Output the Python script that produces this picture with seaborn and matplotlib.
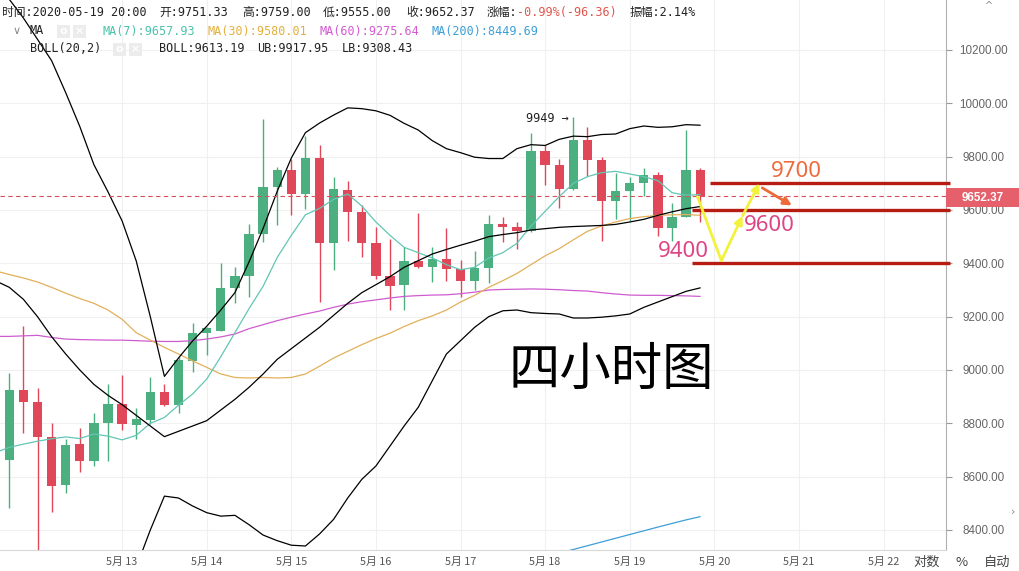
import numpy as np
import pandas as pd
import matplotlib
matplotlib.use("Agg")
import matplotlib.pyplot as plt
import seaborn as sns
from matplotlib.patches import Rectangle

# ---------------- data ----------------
opens = [8663, 8925, 8880, 8749, 8567, 8721, 8657, 8803, 8871, 8793,
         8813, 8916, 8868, 9034, 9139, 9147, 9307, 9352, 9511, 9685,
         9749, 9661, 9794, 9477, 9674, 9593, 9477, 9354, 9318, 9409,
         9388, 9416, 9379, 9334, 9382, 9548, 9538, 9522, 9820, 9770,
         9678, 9861, 9786, 9634, 9670, 9702, 9733, 9531, 9575, 9751.33]
highs = [8987, 9164, 8932, 8803, 8742, 8783, 8837, 8946, 8983, 8857,
         8973, 8946, 9048, 9177, 9160, 9402, 9388, 9548, 9940, 9760,
         9790, 9879, 9845, 9725, 9708, 9620, 9538, 9491, 9463, 9589,
         9463, 9531, 9412, 9447, 9583, 9575, 9556, 9888, 9845, 9793,
         9949, 9913, 9797, 9738, 9722, 9756, 9742, 9627, 9899, 9759.00]
lows = [8483, 8762, 8300, 8469, 8537, 8619, 8640, 8660, 8776, 8742,
        8796, 8866, 8837, 8994, 9055, 9147, 9252, 9273, 9480, 9545,
        9583, 9602, 9255, 9375, 9484, 9422, 9341, 9225, 9225, 9382,
        9330, 9334, 9273, 9300, 9327, 9480, 9452, 9518, 9695, 9606,
        9674, 9729, 9484, 9565, 9559, 9654, 9504, 9484, 9572, 9555.00]
closes = [8925, 8880, 8749, 8565, 8717, 8657, 8803, 8871, 8796, 8817,
          8916, 8868, 9039, 9139, 9157, 9307, 9352, 9511, 9685, 9749,
          9661, 9794, 9477, 9678, 9593, 9477, 9354, 9314, 9409, 9388,
          9416, 9379, 9334, 9382, 9548, 9538, 9522, 9820, 9770, 9678,
          9861, 9786, 9634, 9670, 9702, 9733, 9531, 9572, 9749, 9652.37]

line_idx = list(range(-1, 50))
ma7 = [8690, 8710, 8722, 8733, 8742, 8749, 8743, 8760, 8752, 8738, 8755,
       8800, 8822, 8868, 8910, 8966, 9050, 9140, 9230, 9314, 9422,
       9505, 9582, 9606, 9640, 9660, 9615, 9555, 9505, 9460, 9440,
       9420, 9395, 9376, 9385, 9420, 9440, 9475, 9540, 9595, 9650,
       9700, 9725, 9740, 9745, 9735, 9725, 9710, 9665, 9655, 9658]
ma30 = [9372, 9358, 9345, 9330, 9310, 9288, 9268, 9250, 9225, 9190, 9140,
        9112, 9085, 9060, 9034, 9010, 8985, 8972, 8970, 8972, 8970,
        8972, 8985, 9014, 9045, 9070, 9095, 9118, 9138, 9163, 9185,
        9203, 9225, 9255, 9280, 9310, 9335, 9362, 9395, 9428, 9455,
        9488, 9520, 9540, 9555, 9568, 9575, 9580, 9582, 9583, 9580]
ma60 = [9126, 9126, 9128, 9130, 9122, 9116, 9114, 9113, 9112, 9112, 9110,
        9108, 9107, 9107, 9110, 9116, 9124, 9135, 9155, 9170, 9185,
        9198, 9210, 9221, 9235, 9247, 9256, 9263, 9270, 9276, 9279,
        9281, 9282, 9286, 9292, 9300, 9302, 9303, 9304, 9303, 9301,
        9298, 9296, 9290, 9285, 9281, 9280, 9280, 9279, 9278, 9276]
ma200_idx = [38, 40, 42, 44, 46, 48, 49]
ma200 = [8300, 8327, 8355, 8383, 8411, 8438, 8450]
boll_mid = [9335, 9310, 9265, 9200, 9125, 9060, 9000, 8946, 8905, 8870, 8830,
            8790, 8750, 8770, 8790, 8810, 8850, 8890, 8935, 8985, 9040,
            9080, 9120, 9160, 9205, 9250, 9290, 9320, 9350, 9385, 9410,
            9435, 9452, 9468, 9483, 9500, 9508, 9515, 9525, 9530, 9535,
            9538, 9540, 9542, 9546, 9555, 9565, 9580, 9593, 9605, 9613]
boll_ub = [10470, 10390, 10320, 10240, 10160, 10040, 9913, 9770, 9668, 9559, 9409,
           9200, 8976, 9045, 9109, 9164, 9225, 9290, 9405, 9531, 9670,
           9795, 9890, 9926, 9956, 9983, 9980, 9972, 9955, 9925, 9900,
           9860, 9830, 9815, 9798, 9793, 9793, 9830, 9845, 9842, 9865,
           9877, 9875, 9883, 9885, 9905, 9915, 9910, 9912, 9920, 9918]
lb_idx = list(range(8, 50))
boll_lb = [8150, 8260, 8400, 8527, 8520, 8490, 8465, 8452, 8455, 8420,
           8381, 8360, 8343, 8340, 8385, 8440, 8520, 8590, 8640, 8715,
           8790, 8860, 8960, 9060, 9110, 9160, 9200, 9222, 9225, 9215,
           9212, 9210, 9195, 9195, 9198, 9203, 9210, 9235, 9255, 9275,
           9295, 9308]

day_labels = ["5月 13", "5月 14", "5月 15", "5月 16", "5月 17",
              "5月 18", "5月 19", "5月 20", "5月 21", "5月 22"]
day_idx = [8, 14, 20, 26, 32, 38, 44, 50, 56, 62]
price_ticks = [8400, 8600, 8800, 9000, 9200, 9400, 9600, 9800, 10000, 10200]
last_price = 9652.37

levels = [9700, 9600, 9400]
level_start = [49.7, 48.4, 48.4]
path_x = [48.8, 50.5, 52.0, 53.2]
path_y = [9650, 9410, 9578, 9700]
orange_x = [53.4, 55.5]
orange_y = [9683, 9617]

# ---------------- style ----------------
sns.set_theme(style="white")
plt.rcParams['font.family'] = ['DejaVu Sans', 'Noto Sans CJK SC']
W, H = 1020, 571
fig = plt.figure(figsize=(W / 100, H / 100), dpi=100)
fig.patch.set_facecolor("white")
ax = fig.add_axes([0, 21 / H, 946 / W, 550 / H])
ax.set_facecolor("white")

XMIN, XMAX = -0.66, 66.43
YMIN, YMAX = 8325, 10387.5
ax.set_xlim(XMIN, XMAX)
ax.set_ylim(YMIN, YMAX)

GREEN = "#4caf7f"
RED = "#e0485a"

# grid
for t in price_ticks:
    ax.axhline(t, color="#f0f0f0", lw=0.8, zorder=0)
for d in day_idx:
    ax.axvline(d, color="#f0f0f0", lw=0.8, zorder=0)

# candles
df = pd.DataFrame({"o": opens, "h": highs, "l": lows, "c": closes})
df["i"] = np.arange(len(df))
df["up"] = df["c"] >= df["o"]
cols = [GREEN if u else RED for u in df["up"]]
ax.vlines(df["i"], df["l"], df["h"], colors=cols, lw=1.0, zorder=3)
body_lo = np.minimum(df["o"], df["c"])
body_h = np.maximum(np.abs(df["c"] - df["o"]), 4)
ax.bar(df["i"], body_h, bottom=body_lo, width=0.66, color=cols, zorder=3, linewidth=0)

# lines (seaborn)
def sline(x, y, color, lw=0.9):
    sns.lineplot(x=x, y=y, ax=ax, color=color, linewidth=lw, sort=False,
                 estimator=None, zorder=4, legend=False)

sline(line_idx, ma60, "#cf5ccf")
sline(line_idx, ma30, "#e2b05a")
sline(line_idx, ma7, "#62c6b4")
sline(ma200_idx, ma200, "#3d9fd6")
sline(line_idx, boll_mid, "black", 0.9)
sline(line_idx, boll_ub, "black", 0.9)
sline(lb_idx, boll_lb, "black", 0.9)

# last price dashed line
ax.axhline(last_price, color="#d9505c", lw=0.8, ls=(0, (4, 3)), zorder=5)

# support / resistance levels
for lv, st in zip(levels, level_start):
    ax.plot([st, XMAX + 0.3], [lv, lv], color="#b71c12", lw=2.4, zorder=6,
            solid_capstyle="butt", clip_on=False)

YEL = "#f2f23c"
ax.plot(path_x[:2], path_y[:2], color=YEL, lw=2.0, zorder=7)
for k in (1, 2):
    ax.annotate("", xy=(path_x[k + 1], path_y[k + 1]), xytext=(path_x[k], path_y[k]),
                arrowprops=dict(arrowstyle="-|>", color=YEL, lw=2.0,
                                mutation_scale=12, shrinkA=0, shrinkB=0), zorder=7)
ax.annotate("", xy=(orange_x[1], orange_y[1]), xytext=(orange_x[0], orange_y[0]),
            arrowprops=dict(arrowstyle="-|>", color="#ee6a3a", lw=2.0,
                            mutation_scale=12, shrinkA=0, shrinkB=0), zorder=7)

NUMF = ["Noto Sans", "DejaVu Sans"]
ax.text(55.8, 9705, "9700", color="#ee6a3c", fontsize=16, family=NUMF,
        ha="center", va="bottom", zorder=8)
ax.text(53.9, 9583, "9600", color="#de4585", fontsize=16, family=NUMF,
        ha="center", va="top", zorder=8)
ax.text(49.6, 9405, "9400", color="#de4585", fontsize=16, family=NUMF,
        ha="right", va="bottom", zorder=8)
ax.text(42.7, 9000, "四小时图", color="black", fontsize=37,
        family=["Noto Sans CJK SC"], ha="center", va="center", zorder=8)
ax.text(36.65, 9949 - 5, "9949 →", color="#222", fontsize=8.5,
        family=["DejaVu Sans Mono", "DejaVu Sans"], ha="left", va="center", zorder=8)

# axes cosmetics
for s in ["top", "left"]:
    ax.spines[s].set_visible(False)
ax.spines["right"].set_color("#b0b0b0")
ax.spines["right"].set_linewidth(0.8)
ax.spines["bottom"].set_color("#d8d8d8")
ax.spines["bottom"].set_linewidth(0.8)

ax.yaxis.tick_right()
ax.set_yticks(price_ticks)
ax.set_yticklabels([f"{t:.2f}" for t in price_ticks])
ax.tick_params(axis="y", right=True, left=False, length=4, width=0.8,
               color="#999999", labelsize=8.4, labelcolor="#666666", pad=23)
for lab in ax.get_yticklabels():
    lab.set_horizontalalignment("center")
    lab.set_family(["Liberation Sans", "DejaVu Sans"])
ax.set_xticks(day_idx)
ax.set_xticklabels(day_labels)
ax.tick_params(axis="x", bottom=True, length=0, labelsize=7.8,
               labelcolor="#555555", pad=5)
for lab in ax.get_xticklabels():
    lab.set_family(["Noto Sans CJK SC"])
ax.set_xlabel("")
ax.set_ylabel("")

# current price tag on right axis
def fx(px):
    return px / W

def fy(py):
    return 1 - py / H

fig.patches.append(Rectangle((fx(946), fy(207)), 74 / W, 19 / H,
                             transform=fig.transFigure, facecolor="#e5606b",
                             edgecolor="none", zorder=10))
fig.text(fx(983), fy(197.5), f"{last_price:.2f}", color="white", fontsize=8.4,
         fontweight="bold", family=["Liberation Sans", "DejaVu Sans"],
         ha="center", va="center", zorder=11)

# header texts
MONO = ["DejaVu Sans Mono", "Noto Sans CJK SC"]
hdr = dict(fontsize=8.5, family=MONO, va="center", ha="left")
y1, y2, y3 = 12.7, 31, 49
fig.text(fx(2), fy(y1), "时间:2020-05-19 20:00", color="#222", **hdr)
fig.text(fx(159), fy(y1), "开:9751.33", color="#222", **hdr)
fig.text(fx(242), fy(y1), "高:9759.00", color="#222", **hdr)
fig.text(fx(323), fy(y1), "低:9555.00", color="#222", **hdr)
fig.text(fx(406), fy(y1), "收:9652.37", color="#222", **hdr)
fig.text(fx(487), fy(y1), "涨幅:", color="#222", **hdr)
fig.text(fx(517), fy(y1), "-0.99%(-96.36)", color="#e0564c", **hdr)
fig.text(fx(630), fy(y1), "振幅:2.14%", color="#222", **hdr)

fig.text(fx(13), fy(y2), "∨", color="#888", fontsize=8, family=["DejaVu Sans"],
         va="center", ha="left")
fig.text(fx(30), fy(y2), "MA", color="#222", **hdr)
fig.text(fx(103), fy(y2), "MA(7):9657.93", color="#4cc2aa", **hdr)
fig.text(fx(208), fy(y2), "MA(30):9580.01", color="#e3b03c", **hdr)
fig.text(fx(320), fy(y2), "MA(60):9275.64", color="#d35ad3", **hdr)
fig.text(fx(432), fy(y2), "MA(200):8449.69", color="#3d9fd6", **hdr)

fig.text(fx(30), fy(y3), "BOLL(20,2)", color="#222", **hdr)
fig.text(fx(159), fy(y3), "BOLL:9613.19", color="#222", **hdr)
fig.text(fx(257), fy(y3), "UB:9917.95", color="#222", **hdr)
fig.text(fx(342), fy(y3), "LB:9308.43", color="#222", **hdr)

# little setting / close icons
for x0, yc in [(57, y2), (73, y2), (113, y3), (129, y3)]:
    fig.patches.append(Rectangle((fx(x0), fy(yc + 6.5)), 13 / W, 13 / H,
                                 transform=fig.transFigure, facecolor="#ececec",
                                 edgecolor="none", zorder=9))
for x0, yc, s in [(63.5, y2, "o"), (79.5, y2, "×"), (119.5, y3, "o"), (135.5, y3, "×")]:
    fig.text(fx(x0), fy(yc), s, color="white", fontsize=8, fontweight="bold",
             ha="center", va="center", zorder=10)

# bottom-right controls
fig.text(fx(927), fy(562), "对数", color="#444", fontsize=9.5,
         family=["Noto Sans CJK SC"], ha="center", va="center")
fig.text(fx(962), fy(562), "%", color="#444", fontsize=9.5,
         family=["Noto Sans CJK SC"], ha="center", va="center")
fig.text(fx(997), fy(562), "自动", color="#444", fontsize=9.5,
         family=["Noto Sans CJK SC"], ha="center", va="center")
fig.text(fx(989), fy(6), "^", color="#888", fontsize=7, ha="center", va="center")
fig.text(fx(1013), fy(512), "›", color="#888", fontsize=8, ha="center", va="center")

fig.savefig("out.png", dpi=100, facecolor="white")
